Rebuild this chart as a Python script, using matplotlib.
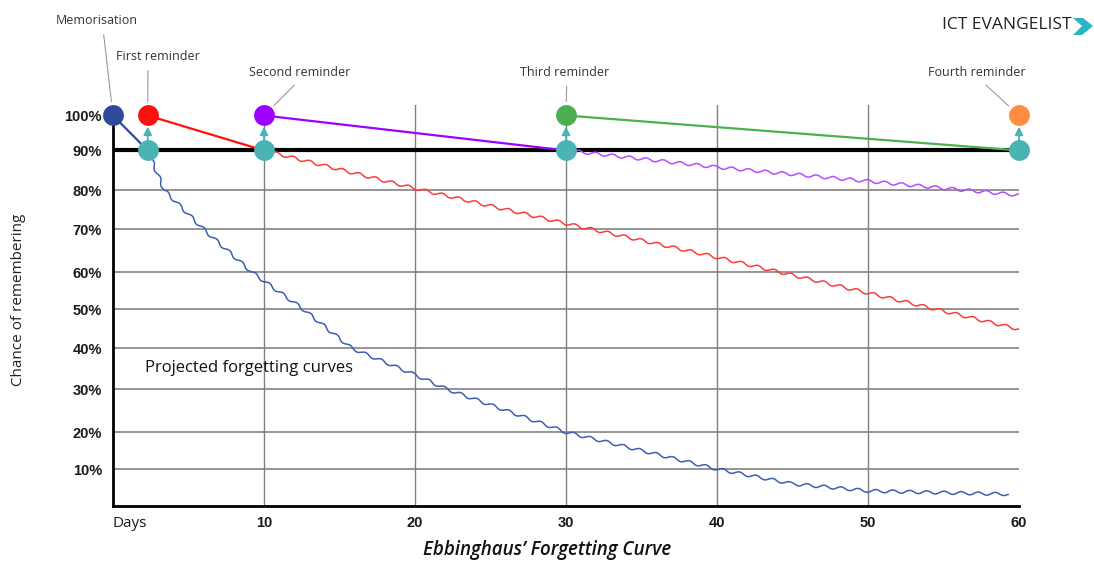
import matplotlib
matplotlib.use('Agg')
import matplotlib.pyplot as plt
from matplotlib.patches import Polygon
import numpy as np

# Data
memo_day = 0
reminder_days = [2.3, 10, 30, 60]
full_recall = 100
threshold = 90

blue_days = [2.3, 3.4, 6.0, 9.2, 12.6, 15.8, 20, 22.1, 30, 40, 45, 50, 55, 59.3]
blue_vals = [90, 80, 70, 60, 50, 40, 33.5, 30, 20, 10, 6, 4.1, 3.6, 3.2]
red_days = [10, 20, 30, 40, 50, 60.3]
red_vals = [90, 80.5, 71.5, 63.5, 54.4, 44.6]
purple_days = [30, 40, 50, 60]
purple_vals = [90, 85.8, 82.3, 78.8]

y_ticks = [10, 20, 30, 40, 50, 60, 70, 80, 90, 100]
x_ticks = [0, 10, 20, 30, 40, 50, 60]
x_labels = ['Days', '10', '20', '30', '40', '50', '60']
reminder_names = ['First reminder', 'Second reminder', 'Third reminder', 'Fourth reminder']

# colours
NAVY = '#2d4b98'
RED = '#ff1010'
PURPLE = '#a000ff'
GREEN = '#4cb050'
ORANGE = '#ff8c42'
TEAL = '#4ab3b4'
reminder_cols = [RED, PURPLE, GREEN, ORANGE]

W, H = 1094, 563


def fpx(x, y):
    # image pixel -> figure fraction
    return (x / W, 1 - y / H)


fig = plt.figure(figsize=(W / 100, H / 100), dpi=100)
ax = fig.add_axes([113 / W, 1 - 506 / H, 906 / W, 401 / H])

# the original y axis is not quite evenly spaced
grid_v = [0, 10, 20, 30, 40, 50, 60, 70, 80, 90, 100, 110]
grid_px = -np.array([506, 469, 432, 389, 348, 309, 272, 229, 190, 150, 115, 80])
ax.set_yscale('function', functions=(lambda v: np.interp(v, grid_v, grid_px),
                                     lambda p: np.interp(p, grid_px, grid_v)))
ax.set_xlim(0, 60)
ax.set_ylim(0, 103)

# grid
for v in y_ticks[:-2]:
    ax.axhline(v, color='#8c8c8c', lw=1.3, zorder=1)
for d in x_ticks[1:-1]:
    ax.axvline(d, color='#808080', lw=1.0, zorder=1)
ax.axhline(threshold, xmin=0, xmax=1, color='black', lw=3, zorder=2)

for s in ['top', 'right']:
    ax.spines[s].set_visible(False)
ax.spines['left'].set_linewidth(2)
ax.spines['left'].set_bounds(0, full_recall)
ax.spines['bottom'].set_linewidth(2)

ax.set_yticks(y_ticks, [f'{v}%' for v in y_ticks])
ax.set_xticks(x_ticks, x_labels)
ax.tick_params(length=0)
ax.tick_params(axis='y', pad=8)
ax.tick_params(axis='x', pad=7)
for lab in ax.get_yticklabels() + ax.get_xticklabels():
    lab.set_fontfamily('Liberation Sans')
    lab.set_fontweight('bold')
    lab.set_fontsize(10.5)
    lab.set_color('#1a1a1a')
days_lab = ax.get_xticklabels()[0]
days_lab.set_fontfamily('Open Sans')
days_lab.set_fontweight('normal')
days_lab.set_fontsize(11)
days_lab.set_horizontalalignment('left')

# wavy projected curves
wave = dict(scale=1.5, length=17, randomness=1)
for dd, vv, col in [(blue_days, blue_vals, '#3c5fb4'),
                    (red_days, red_vals, '#ff3a3a'),
                    (purple_days, purple_vals, '#b44cff')]:
    ln, = ax.plot(dd, vv, color=col, lw=1.1, zorder=3, solid_capstyle='round')
    ln.set_sketch_params(**wave)

# straight decay segments from each review
starts = [memo_day] + reminder_days[:-1]
seg_cols = [NAVY, RED, PURPLE, GREEN]
for s, e, col in zip(starts, reminder_days, seg_cols):
    ax.plot([s, e], [full_recall, threshold], color=col, lw=1.6, zorder=4)

# arrows from threshold up to reminder
for d in reminder_days:
    ax.annotate('', xy=(d, full_recall), xytext=(d, threshold),
                arrowprops=dict(arrowstyle='-|>', color=TEAL, lw=1.3,
                                shrinkA=6, shrinkB=8, mutation_scale=12),
                zorder=4)

# markers
ax.plot([memo_day], [full_recall], 'o', ms=15, color=NAVY, mew=0, clip_on=False, zorder=6)
for d, col in zip(reminder_days, reminder_cols):
    ax.plot([d], [full_recall], 'o', ms=15, color=col, mew=0, clip_on=False, zorder=6)
ax.plot(reminder_days, [threshold] * len(reminder_days), 'o', ms=15, color=TEAL,
        mew=0, clip_on=False, zorder=6)

# labels with leader lines
lead = dict(arrowstyle='-', color='#9a9a9a', lw=0.8, relpos=(0.5, 0), shrinkA=3, shrinkB=10)
ax.annotate('Memorisation', xy=(memo_day, full_recall), xytext=fpx(97, 20),
            textcoords='figure fraction', ha='center', va='center',
            fontsize=9, family='Open Sans', color='#333333',
            arrowprops={**lead, 'relpos': (0.57, 0), 'shrinkA': 4}, annotation_clip=False)
name_pos = [(158, 57), (300, 73), (565, 73), (977, 73)]
name_rel = [0.38, 0.5, 0.52, 0.53]
for d, name, (tx, ty), rx in zip(reminder_days, reminder_names, name_pos, name_rel):
    ax.annotate(name, xy=(d, full_recall), xytext=fpx(tx, ty),
                textcoords='figure fraction', ha='center', va='center',
                fontsize=9, family='Open Sans', color='#333333',
                arrowprops={**lead, 'relpos': (rx, 0)}, annotation_clip=False)

ax.text(fpx(145, 368)[0], fpx(145, 368)[1], 'Projected forgetting curves',
        transform=fig.transFigure, ha='left', va='center',
        fontsize=12, family='Open Sans', color='#111111')

fig.text(19 / W, 1 - 300 / H, 'Chance of remembering', rotation=90,
         ha='center', va='center', fontsize=11, family='Open Sans', color='#222222')
fig.text(547 / W, 1 - 550 / H, 'Ebbinghaus\u2019 Forgetting Curve', ha='center', va='center',
         fontsize=13.5, family='Open Sans', style='italic', weight='semibold', color='#111111')

# logo
fig.text(1072 / W, 1 - 25 / H, 'ICT EVANGELIST', ha='right', va='center',
         fontsize=12.5, family='Open Sans', color='#222222')
chev = [fpx(1073, 18), fpx(1083, 18), fpx(1093, 26), fpx(1082, 35), fpx(1073, 35), fpx(1082, 26)]
fig.patches.append(Polygon(chev, closed=True, transform=fig.transFigure,
                           facecolor='#2bb4c4', edgecolor='none'))

fig.savefig('out.png', dpi=100)
